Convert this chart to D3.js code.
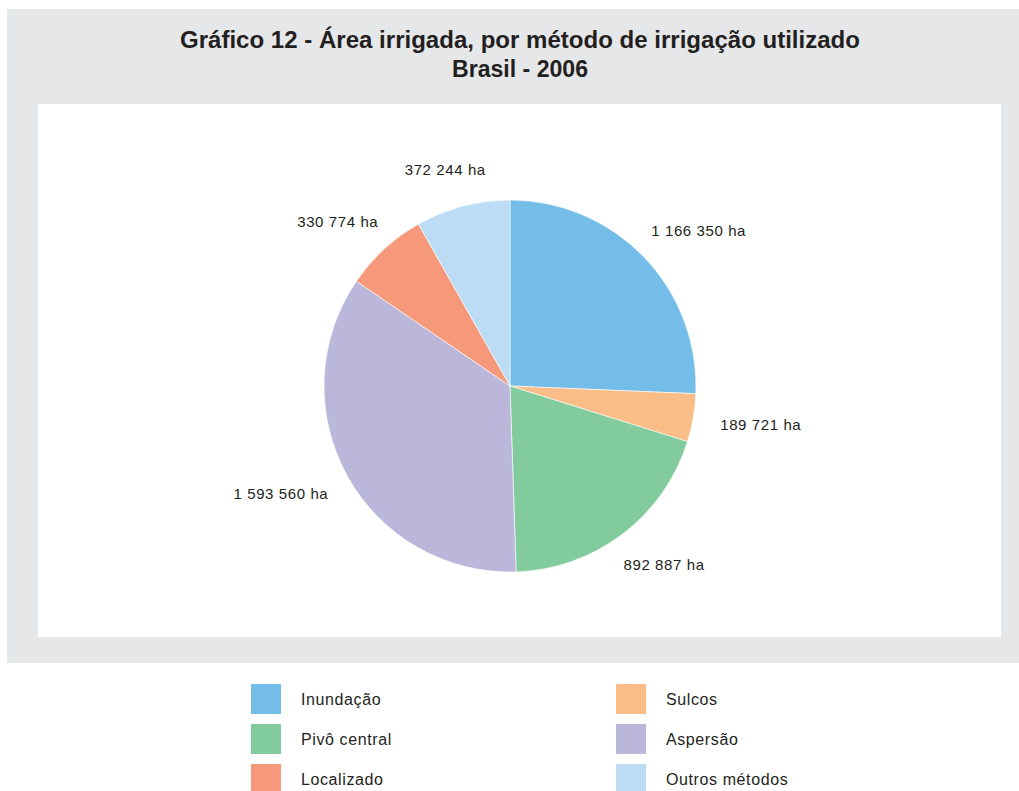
<!DOCTYPE html>
<html><head><meta charset="utf-8">
<script src="https://cdn.jsdelivr.net/npm/d3@7"></script>
<style>body{margin:0;background:#fff;} svg{display:block;}</style>
</head><body>
<svg id="c" width="1019" height="791"></svg>
<script>
const categories = ["Inundação","Sulcos","Pivô central","Aspersão","Localizado","Outros métodos"];
const values = [1166350, 189721, 892887, 1593560, 330774, 372244];
const labels = ["1 166 350 ha","189 721 ha","892 887 ha","1 593 560 ha","330 774 ha","372 244 ha"];
const colors = ["#74bde8","#fbbd87","#82cb9c","#bbb7da","#f6997b","#bbdcf4"];
const legendOrder = ["Inundação","Sulcos","Pivô central","Aspersão","Localizado","Outros métodos"];
const titleLines = ["Gráfico 12 - Área irrigada, por método de irrigação utilizado","Brasil - 2006"];

const svg = d3.select("#c");
svg.append("rect").attr("x",7).attr("y",9).attr("width",1012).attr("height",654).attr("fill","#e6e7e9");
svg.append("rect").attr("x",38).attr("y",104).attr("width",963).attr("height",533).attr("fill","#fff");

const font = "'Liberation Sans', Arial, sans-serif";
const tfont = "'Liberation Sans Narrow','Liberation Sans',Arial,sans-serif";
const t1 = svg.append("text").attr("x",520).attr("y",48).attr("text-anchor","middle")
  .attr("font-family",tfont).attr("font-weight","bold")
  .attr("font-size",24).attr("fill","#231f20").text(titleLines[0]);
t1.attr("textLength",680).attr("lengthAdjust","spacingAndGlyphs");
const t2 = svg.append("text").attr("x",520).attr("y",77).attr("text-anchor","middle")
  .attr("font-family",tfont).attr("font-weight","bold")
  .attr("font-size",24).attr("fill","#231f20").text(titleLines[1]);
t2.attr("textLength",136).attr("lengthAdjust","spacingAndGlyphs");

const cx = 510, cy = 386, r = 186;
const color = d3.scaleOrdinal().domain(categories).range(colors);
const pie = d3.pie().sort(null).value(d => d.value);
const data = categories.map((c,i)=>({cat:c, value:values[i], label:labels[i]}));
const arcs = pie(data);
const arc = d3.arc().innerRadius(0).outerRadius(r);
const g = svg.append("g").attr("transform",`translate(${cx},${cy})`);
g.selectAll("path").data(arcs).join("path")
  .attr("d",arc).attr("fill",d=>color(d.data.cat))
  .attr("stroke","#fff").attr("stroke-width",0.6);

const R = 214;
g.selectAll("text.lab").data(arcs).join("text").attr("class","lab")
  .attr("font-family",font).attr("font-size",15).attr("letter-spacing",0.6).attr("fill","#231f20")
  .attr("text-anchor","middle").attr("dominant-baseline","central")
  .text(d=>d.data.label)
  .each(function(d){
    const a = (d.startAngle+d.endAngle)/2;
    const bb = this.getBBox();
    const x = R*Math.sin(a) + bb.width/2*Math.sin(a);
    const y = -R*Math.cos(a) - 10*Math.cos(a);
    d3.select(this).attr("x",x).attr("y",y);
  });

const lg = svg.append("g");
const colX = d3.scaleOrdinal().domain([0,1]).range([251,616]);
const rowY = d3.scaleLinear().domain([0,1]).range([684,724]);
legendOrder.forEach((c,i)=>{
  const col = i%2, row = Math.floor(i/2);
  const x = colX(col), y = rowY(row);
  lg.append("rect").attr("x",x).attr("y",y).attr("width",30).attr("height",30).attr("fill",color(c));
  lg.append("text").attr("x",x+50).attr("y",y+15).attr("dominant-baseline","central")
    .attr("font-family",font).attr("font-size",16).attr("letter-spacing",0.6).attr("fill","#231f20").text(c);
});
</script>
</body></html>
